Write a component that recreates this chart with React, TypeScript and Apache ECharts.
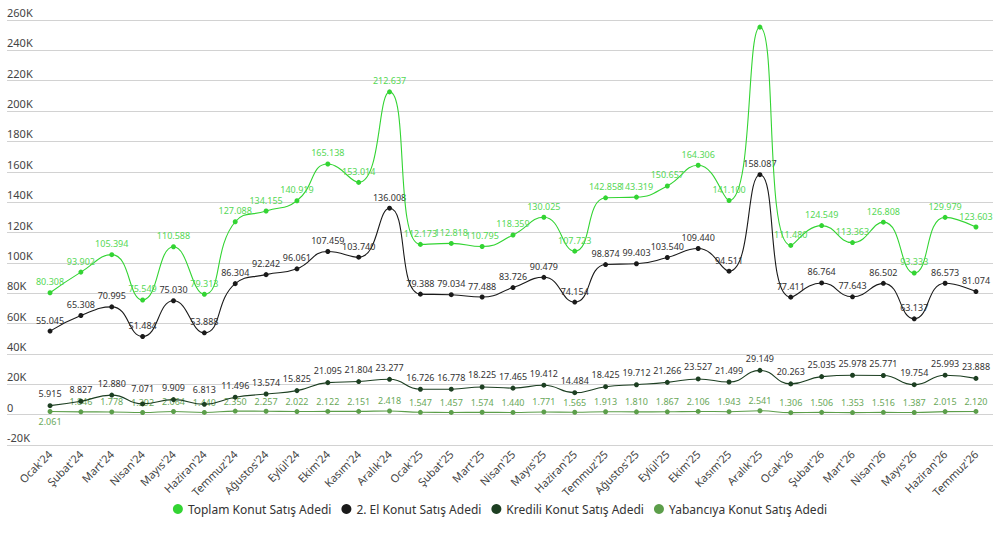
import React, { useEffect, useRef } from "react";
import * as echarts from "echarts";

const categories = [
  "Ocak'24", "Şubat'24", "Mart'24", "Nisan'24", "Mayıs'24", "Haziran'24", "Temmuz'24", "Ağustos'24",
  "Eylül'24", "Ekim'24", "Kasım'24", "Aralık'24", "Ocak'25", "Şubat'25", "Mart'25", "Nisan'25",
  "Mayıs'25", "Haziran'25", "Temmuz'25", "Ağustos'25", "Eylül'25", "Ekim'25", "Kasım'25", "Aralık'25",
  "Ocak'26", "Şubat'26", "Mart'26", "Nisan'26", "Mayıs'26", "Haziran'26", "Temmuz'26",
];

const toplam = [
  80308, 93902, 105394, 75549, 110588, 79313, 127088, 134155, 140919, 165138, 153014, 212637,
  112173, 112818, 110795, 118359, 130025, 107723, 142858, 143319, 150657, 164306, 141100, 255300,
  111480, 124549, 113363, 126808, 93333, 129979, 123603,
];

const ikinciEl = [
  55045, 65308, 70995, 51484, 75030, 53888, 86304, 92242, 96061, 107459, 103740, 136008,
  79388, 79034, 77488, 83726, 90479, 74154, 98874, 99403, 103540, 109440, 94511, 158087,
  77411, 86764, 77643, 86502, 63137, 86573, 81074,
];

const kredili = [
  5915, 8827, 12880, 7071, 9909, 6813, 11496, 13574, 15825, 21095, 21804, 23277,
  16726, 16778, 18225, 17465, 19412, 14484, 18425, 19712, 21266, 23527, 21499, 29149,
  20263, 25035, 25978, 25771, 19754, 25993, 23888,
];

const yabanci = [
  2061, 1846, 1778, 1392, 2064, 1440, 2350, 2257, 2022, 2122, 2151, 2418,
  1547, 1457, 1574, 1440, 1771, 1565, 1913, 1810, 1867, 2106, 1943, 2541,
  1306, 1506, 1353, 1516, 1387, 2015, 2120,
];

const seriesNames = [
  "Toplam Konut Satış Adedi",
  "2. El Konut Satış Adedi",
  "Kredili Konut Satış Adedi",
  "Yabancıya Konut Satış Adedi",
];

const FONT = "Noto Sans";

function fmt(v: number): string {
  const s = Math.round(Math.abs(v)).toString();
  const out = s.replace(/\B(?=(\d{3})+(?!\d))/g, ".");
  return (v < 0 ? "-" : "") + out;
}

function yFmt(v: number): string {
  if (v === 0) return "0";
  return v / 1000 + "K";
}

export default function App() {
  const ref = useRef<HTMLDivElement>(null);

  useEffect(() => {
    document.body.style.margin = "0";
    if (!ref.current) return;
    const chart = echarts.init(ref.current, undefined, { renderer: "svg" });

    const mkSeries = (
      name: string,
      data: number[],
      color: string,
      labelColor: string,
      z: number,
      labelDist: number,
      dataMap?: (v: number, i: number) => any
    ) => ({
      name,
      type: "line",
      xAxisIndex: 1,
      yAxisIndex: 1,
      smooth: true,
      symbol: "circle",
      symbolSize: 5,
      showSymbol: true,
      z,
      lineStyle: { color, width: 1.1 },
      itemStyle: { color },
      label: {
        show: true,
        position: "top",
        distance: labelDist,
        fontFamily: FONT,
        fontSize: 9,
        color: labelColor,
        formatter: (p: any) => fmt(p.value),
      },
      data: dataMap ? data.map(dataMap) : data,
    });

    chart.setOption({
      animation: false,
      textStyle: { fontFamily: FONT },
      grid: [
        { left: 7, right: 7, top: 20, height: 425 },
        { left: 34.6, right: 8.6, top: 20, height: 425 },
      ],
      legend: {
        bottom: 36,
        left: "center",
        icon: "circle",
        itemWidth: 10,
        itemHeight: 10,
        itemGap: 10,
        textStyle: { fontFamily: FONT, fontSize: 12, color: "#333" },
        data: seriesNames,
      },
      xAxis: [
        {
          type: "category",
          gridIndex: 0,
          data: categories,
          show: false,
        },
        {
          type: "category",
          gridIndex: 1,
          data: categories,
          boundaryGap: true,
          axisLine: { show: false },
          axisTick: { show: false },
          axisLabel: {
            rotate: 45,
            interval: 0,
            margin: 7,
            fontFamily: FONT,
            fontSize: 11,
            color: "#444",
          },
        },
      ],
      yAxis: [
        {
          type: "value",
          gridIndex: 0,
          min: -20000,
          max: 260000,
          interval: 20000,
          axisLine: { show: false },
          axisTick: { show: false },
          splitLine: { lineStyle: { color: "#d2d2d2", width: 1.2 } },
          axisLabel: {
            inside: true,
            margin: 0,
            verticalAlign: "bottom",
            padding: [0, 0, 2, 0],
            fontFamily: FONT,
            fontSize: 11,
            color: "#444",
            formatter: yFmt,
          },
        },
        {
          type: "value",
          gridIndex: 1,
          min: -20000,
          max: 260000,
          interval: 20000,
          show: false,
          splitLine: { show: false },
        },
      ],
      series: [
        mkSeries(seriesNames[0], toplam, "#33d433", "#55d855", 4, 4, (v, i) =>
          i === 23 ? { value: v, label: { show: false } } : v
        ),
        mkSeries(seriesNames[1], ikinciEl, "#1a1a1a", "#333", 3, 4),
        mkSeries(seriesNames[2], kredili, "#1d3f22", "#333", 2, 5, (v, i) =>
          i === 3 || i === 5 ? { value: v, label: { distance: 8 } } : v
        ),
        mkSeries(seriesNames[3], yabanci, "#5c9e4a", "#6aa85a", 1, 3, (v, i) =>
          i === 0 ? { value: v, label: { position: "bottom" } } : v
        ),
      ],
    });

    return () => chart.dispose();
  }, []);

  return <div ref={ref} style={{ width: 1000, height: 556 }} />;
}
